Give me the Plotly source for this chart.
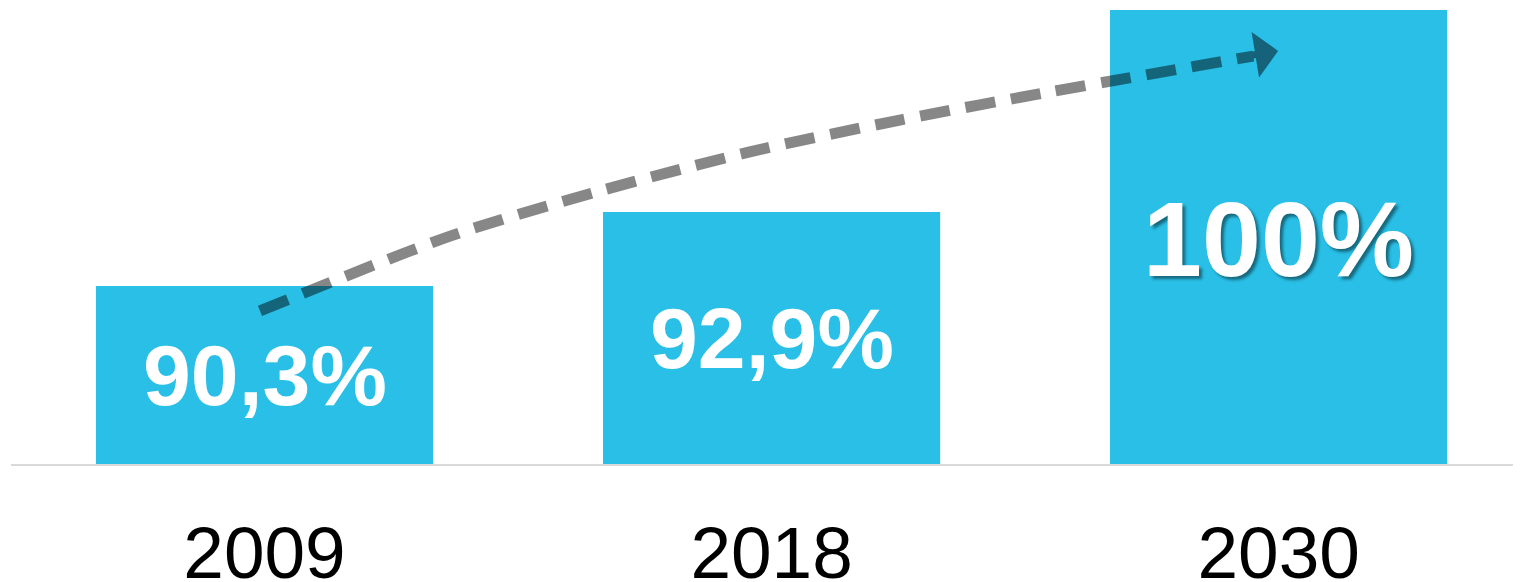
import plotly.graph_objects as go

years = ["2009", "2018", "2030"]
values = [90.3, 92.9, 100.0]
labels = ["90,3%", "92,9%", "100%"]
label_sizes = [86, 86, 106]
label_shift = [0, 0, -2]

# trend arrow path (data coordinates)
trend_x = [-0.009, 0.366, 0.662, 0.957, 1.253, 1.549, 1.950]
trend_y = [89.42, 92.05, 93.64, 95.01, 96.13, 97.12, 98.38]
head_tail = (1.944, 98.40)
head_tip = (1.999, 98.56)

y_min = 84.04
y_max = 100.07
x_pos = list(range(len(years)))

fig = go.Figure()
fig.add_trace(go.Bar(
    x=x_pos, y=[v - y_min for v in values], base=y_min,
    width=0.665, marker=dict(color="#29BFE6", line=dict(width=0)),
    hoverinfo="skip", showlegend=False,
))
fig.add_trace(go.Scatter(
    x=trend_x, y=trend_y, mode="lines",
    line=dict(color="rgba(0,0,0,0.47)", width=11, dash="30px,16px", shape="spline", smoothing=0.8),
    hoverinfo="skip", showlegend=False,
))

# arrowhead
fig.add_annotation(
    x=head_tip[0], y=head_tip[1], ax=head_tail[0], ay=head_tail[1],
    xref="x", yref="y", axref="x", ayref="y", text="",
    showarrow=True, arrowhead=1, arrowsize=1.1, arrowwidth=7, arrowcolor="#15627A",
)

for i, (v, lab, fs, sh) in enumerate(zip(values, labels, label_sizes, label_shift)):
    font = dict(family="Liberation Sans, Arial, sans-serif", size=fs, color="white", weight="bold")
    if lab == "100%":
        font["shadow"] = "3px 3px 3px rgba(0,0,0,0.45)"
    fig.add_annotation(
        x=i, y=(y_min + v) / 2, text=lab, showarrow=False,
        xanchor="center", yanchor="middle", font=font, yshift=sh,
    )

fig.update_layout(
    width=1513, height=574,
    margin=dict(l=3, r=0, t=0, b=118),
    paper_bgcolor="white", plot_bgcolor="white",
    bargap=0.335,
    xaxis=dict(
        range=[-0.5, 2.478], tickvals=x_pos, ticktext=years,
        showgrid=False, zeroline=False, showline=True, linecolor="#d9d9d9", linewidth=2,
        ticks="", tickfont=dict(family="Liberation Sans, Arial, sans-serif", size=73, color="black"),
        ticklabelstandoff=24, automargin=False, fixedrange=True,
    ),
    yaxis=dict(
        range=[y_min, y_max], showgrid=False, zeroline=False, showline=False,
        showticklabels=False, ticks="", automargin=False, fixedrange=True,
    ),
)

fig.write_html("out.html")
